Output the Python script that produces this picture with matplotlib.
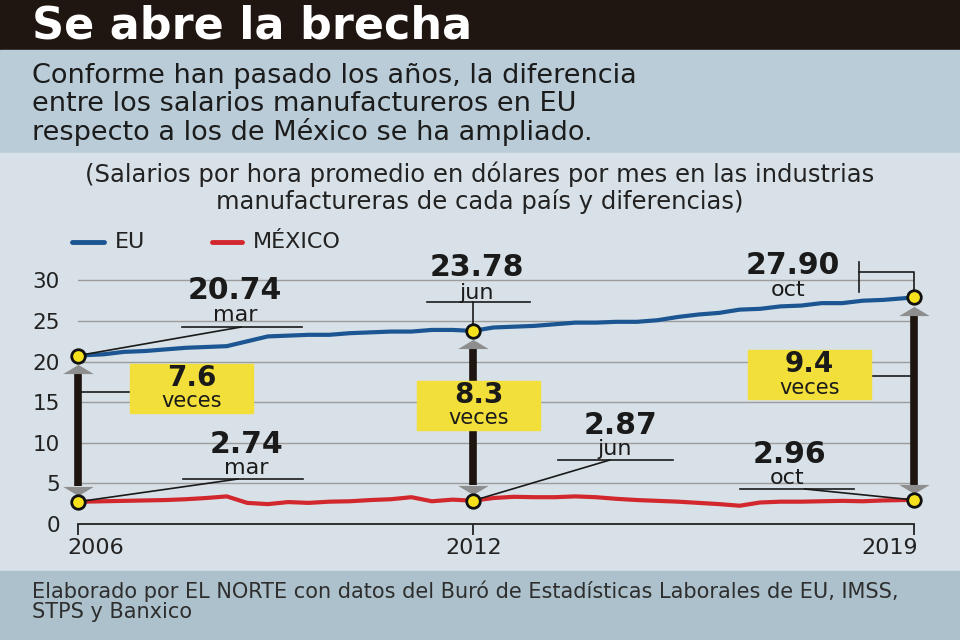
import matplotlib
matplotlib.use("Agg")
import matplotlib.pyplot as plt
from matplotlib.patches import Rectangle

# meses contados desde marzo de 2006
meses = [0, 5, 9, 13, 17, 21, 25, 29, 33, 37, 41, 45, 49, 53, 57, 61, 65, 69, 73, 77,
         81, 85, 89, 93, 97, 101, 105, 109, 113, 117, 121, 125, 129, 133, 137, 141,
         145, 149, 153, 157, 161, 163]
eu = [20.74, 20.9, 21.2, 21.3, 21.5, 21.7, 21.8, 21.9, 22.5, 23.1, 23.2, 23.3, 23.3,
      23.5, 23.6, 23.7, 23.7, 23.9, 23.9, 23.78, 24.2, 24.3, 24.4, 24.6, 24.8, 24.8,
      24.9, 24.9, 25.1, 25.5, 25.8, 26.0, 26.4, 26.5, 26.8, 26.9, 27.2, 27.2, 27.5,
      27.6, 27.8, 27.90]
mexico = [2.74, 2.8, 2.85, 2.9, 2.95, 3.05, 3.2, 3.4, 2.6, 2.45, 2.7, 2.6, 2.75, 2.8,
          2.95, 3.05, 3.3, 2.8, 3.0, 2.87, 3.2, 3.35, 3.3, 3.3, 3.4, 3.3, 3.1, 2.95,
          2.85, 2.75, 2.6, 2.45, 2.25, 2.65, 2.75, 2.75, 2.8, 2.85, 2.8, 2.9, 2.95, 2.96]

idx_puntos = [0, 19, 41]
etiq_mes = ["mar", "jun", "oct"]
anios = ["2006", "2012", "2019"]

azul = "#1b5592"
rojo = "#d3272e"
amarillo = "#f3df3a"
oscuro = "#1e1410"
texto = "#1c1c1c"
plt.rcParams["font.family"] = "DejaVu Sans"

fig = plt.figure(figsize=(9.6, 6.4), dpi=100)

# fondo en pixeles
bg = fig.add_axes([0, 0, 1, 1])
bg.set_xlim(0, 960)
bg.set_ylim(640, 0)
bg.axis("off")
bg.add_patch(Rectangle((0, 0), 960, 50, color="#1f1511"))
bg.add_patch(Rectangle((0, 50), 960, 103, color="#b9ccd7"))
bg.add_patch(Rectangle((0, 153), 960, 418, color="#d8e1e7"))
bg.add_patch(Rectangle((0, 571), 960, 69, color="#acc1cc"))

bg.text(32, 26, "Se abre la brecha", color="white", fontsize=32, fontweight="bold", va="center")
subt = ["Conforme han pasado los años, la diferencia",
        "entre los salarios manufactureros en EU",
        "respecto a los de México se ha ampliado."]
for i, s in enumerate(subt):
    bg.text(32, 76 + i * 28, s, color=texto, fontsize=19.5, va="center")
bg.text(480, 174, "(Salarios por hora promedio en dólares por mes en las industrias",
        ha="center", va="center", fontsize=17.5, color="#222222")
bg.text(480, 202, "manufactureras de cada país y diferencias)",
        ha="center", va="center", fontsize=17.5, color="#222222")

# leyenda
bg.plot([72, 104], [242, 242], color=azul, lw=3.5, solid_capstyle="round")
bg.text(115, 242, "EU", fontsize=16, va="center", color="#222222")
bg.plot([212, 242], [242, 242], color=rojo, lw=3.5, solid_capstyle="round")
bg.text(253, 242, "MÉXICO", fontsize=16, va="center", color="#222222")

bg.text(32, 591, "Elaborado por EL NORTE con datos del Buró de Estadísticas Laborales de EU, IMSS,",
        fontsize=15, va="center", color="#2e2e2e")
bg.text(32, 612, "STPS y Banxico", fontsize=15, va="center", color="#2e2e2e")

# grafica principal
ax = fig.add_axes([78 / 960, 116 / 640, 836 / 960, 35 * 8.12 / 640])
ax.patch.set_alpha(0)
ax.set_xlim(0, 163)
ax.set_ylim(0, 35)
for s in ["top", "right", "left"]:
    ax.spines[s].set_visible(False)
ax.spines["bottom"].set_color("#222222")
ax.spines["bottom"].set_linewidth(1.3)
ax.set_yticks(range(0, 31, 5))
ax.set_xticks([meses[i] for i in idx_puntos])
ax.set_xticklabels([])
ax.tick_params(axis="y", length=0, pad=13, labelsize=15.5, labelcolor="#222222")
ax.tick_params(axis="x", length=8, width=1.3, direction="out", color="#222222")
ax.grid(axis="y", color="#9c9c9c", lw=1)
ax.set_axisbelow(True)

# etiquetas de anio, corridas hacia adentro como en el original
for x, lab in zip([3.5, 77.2, 158.3], anios):
    ax.text(x, -2.95, lab, fontsize=16, ha="center", va="center", color="#222222", clip_on=False)

ax.plot(meses, eu, color=azul, lw=3, zorder=3, clip_on=False)
ax.plot(meses, mexico, color=rojo, lw=3, zorder=3, clip_on=False)

tri_up = [(-1, -0.3), (1, -0.3), (0, 0.3)]
tri_dn = [(-1, 0.3), (1, 0.3), (0, -0.3)]
for k, i in enumerate(idx_puntos):
    x = meses[i]
    top = eu[i] - 2.2
    bot = mexico[i] + 1.9
    ax.plot([x, x], [top, bot], color=oscuro, lw=5.5, zorder=4, solid_capstyle="butt",
            clip_on=False)
    ax.scatter([x], [top + 0.55], marker=tri_up, s=22 ** 2, color="#8e8e8e", zorder=5, lw=0,
               clip_on=False)
    ax.scatter([x], [bot - 0.55], marker=tri_dn, s=22 ** 2, color="#8e8e8e", zorder=5, lw=0,
               clip_on=False)

pts_x = [meses[i] for i in idx_puntos]
ax.scatter(pts_x, [eu[i] for i in idx_puntos], s=95, color="#f5e21c", edgecolor="#111111",
           lw=2, zorder=7, clip_on=False)
ax.scatter(pts_x, [mexico[i] for i in idx_puntos], s=95, color="#f5e21c", edgecolor="#111111",
           lw=2, zorder=7, clip_on=False)

num_kw = dict(fontsize=21.5, fontweight="bold", ha="center", va="center", color="#1a1a1a", zorder=6)
mes_kw = dict(fontsize=16, ha="center", va="center", color="#1a1a1a", zorder=6)
ln_kw = dict(color="#1a1a1a", lw=1.2, zorder=6, clip_on=False)

# etiquetas EU
ax.text(30.6, 28.7, f"{eu[0]:.2f}", **num_kw)
ax.text(30.6, 25.8, etiq_mes[0], **mes_kw)
ax.plot([20.3, 43.7], [24.26, 24.26], **ln_kw)
ax.plot([31.8, meses[0]], [24.26, eu[0]], **ln_kw)

ax.text(77.8, 31.6, f"{eu[19]:.2f}", **num_kw)
ax.text(77.8, 28.5, etiq_mes[1], **mes_kw)
ax.plot([68, 88.1], [27.34, 27.34], **ln_kw)
ax.plot([meses[19], meses[19]], [27.34, eu[19]], **ln_kw)

ax.text(139.4, 31.8, f"{eu[41]:.2f}", **num_kw)
ax.text(138.4, 28.85, etiq_mes[2], **mes_kw)
ax.plot([152.3, 152.3], [32.3, 28.6], **ln_kw)
ax.plot([152.3, meses[41], meses[41]], [31.0, 31.0, eu[41]], **ln_kw)

# etiquetas Mexico
ax.text(32.8, 9.8, f"{mexico[0]:.2f}", **num_kw)
ax.text(32.9, 6.9, etiq_mes[0], **mes_kw)
ax.plot([20.5, 43.9], [5.54, 5.54], **ln_kw)
ax.plot([31.2, meses[0]], [5.54, mexico[0]], **ln_kw)

ax.text(105.7, 12.15, f"{mexico[19]:.2f}", **num_kw)
ax.text(104.7, 9.2, etiq_mes[1], **mes_kw)
ax.plot([93.6, 116], [7.88, 7.88], **ln_kw)
ax.plot([103.7, meses[19]], [7.88, mexico[19]], **ln_kw)

ax.text(138.8, 8.6, f"{mexico[41]:.2f}", **num_kw)
ax.text(138.2, 5.68, etiq_mes[2], **mes_kw)
ax.plot([129, 151.3], [4.31, 4.31], **ln_kw)
ax.plot([141.7, meses[41]], [4.31, mexico[41]], **ln_kw)

# cajas de "veces"
cajas = [(10.1, 13.7), (66.1, 11.6), (130.6, 15.4)]
for k, i in enumerate(idx_puntos):
    x0, y0 = cajas[k]
    ax.add_patch(Rectangle((x0, y0), 24, 6.0, color=amarillo, zorder=8))
    veces = eu[i] / mexico[i]
    ax.text(x0 + 12, y0 + 4.3, f"{veces:.1f}", fontsize=20, fontweight="bold", ha="center",
            va="center", color="#1a1a1a", zorder=9)
    ax.text(x0 + 12, y0 + 1.4, "veces", fontsize=15, ha="center", va="center",
            color="#1a1a1a", zorder=9)
ax.plot([meses[0], 10.1], [16.26, 16.26], **ln_kw)
ax.plot([154.6, meses[41]], [18.2, 18.2], **ln_kw)

fig.savefig("out.png", dpi=100)
